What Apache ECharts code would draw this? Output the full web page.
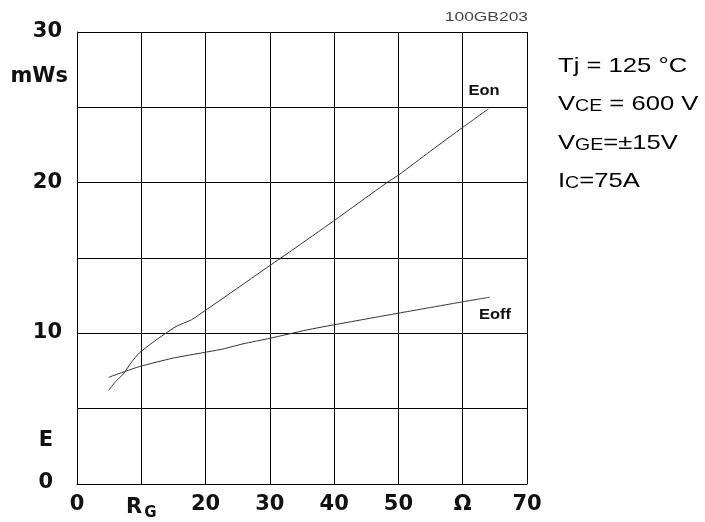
<!DOCTYPE html>
<html>
<head>
<meta charset="utf-8">
<script src="https://cdn.jsdelivr.net/npm/echarts@6/dist/echarts.min.js"></script>
<style>html,body{margin:0;padding:0;background:#fff;}#c{width:705px;height:522px;}</style>
</head>
<body>
<div id="c"></div>
<script>
// ---- data ----
const xTickLabels = ['0', 'RG', '20', '30', '40', '50', 'Ω', '70'];
const yTickLabels = ['0', '', '10', '', '20', '', '30'];
const eonX = [4.9, 6.0, 7.2, 8.5, 9.7, 11.8, 15.4, 17.8, 19.9, 24.3, 30.0, 33.4, 39.9, 48.2, 50.0, 55.0, 60.1, 64.0];
const eonY = [6.2, 6.8, 7.3, 8.1, 8.7, 9.4, 10.45, 10.9, 11.5, 12.8, 14.5, 15.5, 17.45, 20.0, 20.5, 22.1, 23.7, 24.9];
const eoffX = [4.9, 9.7, 14.9, 19.9, 22.7, 25.8, 30.0, 35.7, 39.9, 49.9, 60.1, 64.2];
const eoffY = [7.08, 7.79, 8.35, 8.74, 8.96, 9.3, 9.67, 10.22, 10.56, 11.33, 12.1, 12.4];
const conditions = [
  '{n|T}{n|j = 125 °C}',
  '{n|V}{s|CE}{n| = 600 V}',
  '{n|V}{s|GE}{n|=±15V}',
  '{n|I}{s|C}{n|=75A}'
];

const zip = (xs, ys) => xs.map((x, i) => [x, ys[i]]);
const AX_FONT = 'DejaVu Sans';
const chart = echarts.init(document.getElementById('c'), null, {renderer: 'canvas'});

const rightRich = {
  n: {fontFamily: 'Liberation Sans', fontSize: 21, color: '#000', lineHeight: 21, verticalAlign: 'bottom'},
  s: {fontFamily: 'Liberation Sans', fontSize: 16, color: '#000', lineHeight: 16, verticalAlign: 'bottom'}
};
const lineY = [56, 94, 133, 171];

chart.setOption({
  animation: false,
  backgroundColor: '#fff',
  grid: {left: 77, top: 32, width: 450, height: 452, containLabel: false, show: false},
  xAxis: {
    type: 'value', min: 0, max: 70, interval: 10,
    axisLine: {show: true, lineStyle: {color: '#000', width: 1}},
    axisTick: {show: false},
    splitLine: {show: true, lineStyle: {color: '#000', width: 1}},
    axisLabel: {
      margin: 10, fontFamily: AX_FONT, fontWeight: 'bold', fontSize: 21, color: '#111',
      formatter: v => {
        const s = xTickLabels[Math.round(v / 10)];
        return s === 'RG' ? '{r|R}{g|G}' : s;
      },
      rich: {
        r: {fontFamily: AX_FONT, fontWeight: 'bold', fontSize: 21, color: '#111'},
        g: {fontFamily: AX_FONT, fontWeight: 'bold', fontSize: 15, color: '#111', padding: [12, 0, 0, 2]}
      }
    }
  },
  yAxis: {
    type: 'value', min: 0, max: 30, interval: 5,
    axisLine: {show: true, lineStyle: {color: '#000', width: 1}},
    axisTick: {show: false},
    splitLine: {show: true, lineStyle: {color: '#000', width: 1}},
    axisLabel: {
      margin: 15, fontFamily: AX_FONT, fontWeight: 'bold', fontSize: 21, color: '#111',
      padding: [0, 0, 1, 0],
      formatter: v => {
        const s = yTickLabels[Math.round(v / 5)];
        return v === 0 ? '{z|' + s + '}' : s;
      },
      rich: {
        z: {fontFamily: AX_FONT, fontWeight: 'bold', fontSize: 21, color: '#111', padding: [0, 9, 1, 0]}
      }
    }
  },
  series: [
    {type: 'line', name: 'Eon', data: zip(eonX, eonY), showSymbol: false, smooth: 0.2,
     lineStyle: {color: '#333', width: 1}},
    {type: 'line', name: 'Eoff', data: zip(eoffX, eoffY), showSymbol: false, smooth: 0.2,
     lineStyle: {color: '#333', width: 1}}
  ],
  graphic: [
    {type: 'text', x: 68, y: 77, style: {text: 'mWs', fontFamily: AX_FONT, fontWeight: 'bold', fontSize: 21, fill: '#111', align: 'right', verticalAlign: 'middle'}},
    {type: 'text', x: 46, y: 441, style: {text: 'E', fontFamily: AX_FONT, fontWeight: 'bold', fontSize: 21, fill: '#111', align: 'center', verticalAlign: 'middle'}},
    {type: 'text', x: 528, y: 18, scaleX: 1.45, style: {text: '100GB203', fontFamily: 'Liberation Sans', fontSize: 12, fill: '#444', align: 'right', verticalAlign: 'middle'}},
    {type: 'text', x: 484, y: 91, scaleX: 1.1, style: {text: 'Eon', fontFamily: 'Liberation Sans', fontWeight: 'bold', fontSize: 15, fill: '#111', align: 'center', verticalAlign: 'middle'}},
    {type: 'text', x: 495, y: 315, scaleX: 1.1, style: {text: 'Eoff', fontFamily: 'Liberation Sans', fontWeight: 'bold', fontSize: 15, fill: '#111', align: 'center', verticalAlign: 'middle'}}
  ].concat(conditions.map((t, i) => ({
    type: 'text', x: 558, y: lineY[i], scaleX: 1.22,
    style: {text: t, rich: rightRich, align: 'left', verticalAlign: 'top'}
  })))
});
</script>
</body>
</html>
